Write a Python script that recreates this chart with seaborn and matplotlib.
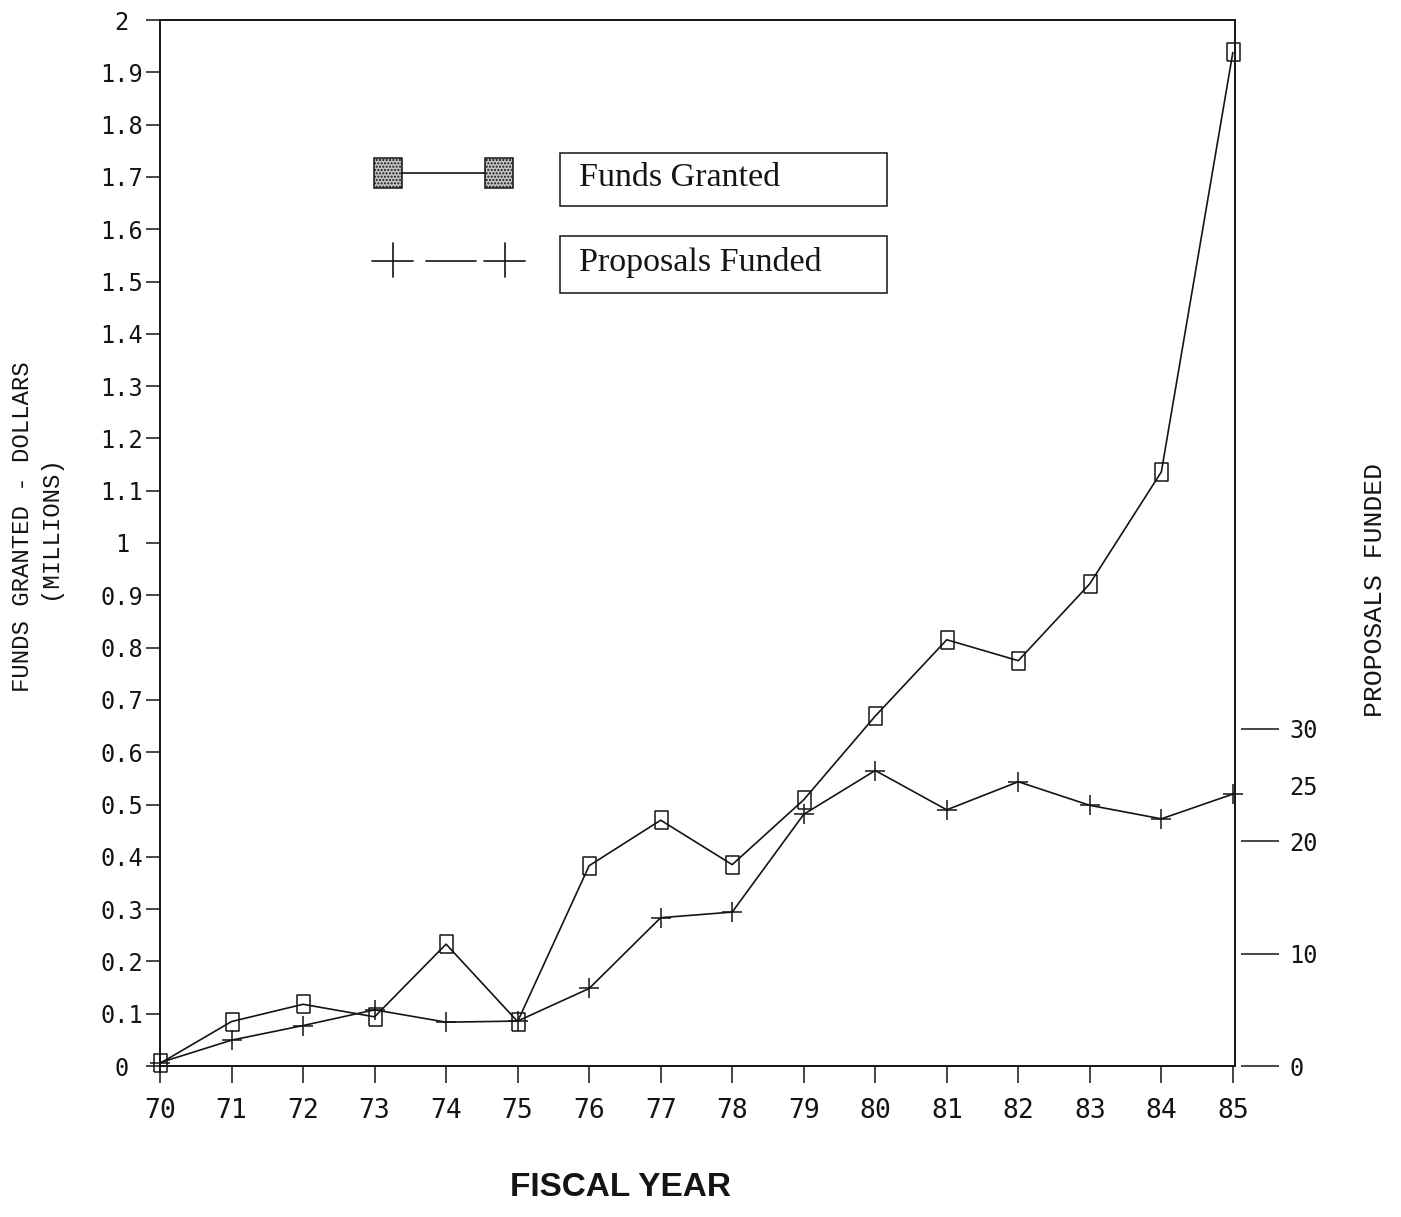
import matplotlib
matplotlib.use('Agg')
import matplotlib.pyplot as plt
from matplotlib.lines import Line2D
from matplotlib.patches import Rectangle
import seaborn as sns
import pandas as pd

# 資料 (從圖上讀取的估計值)
years = list(range(70, 86))
funds_granted = [0.005, 0.085, 0.118, 0.094, 0.233, 0.085, 0.383, 0.470, 0.385, 0.509,
                 0.669, 0.815, 0.775, 0.922, 1.136, 1.938]
proposals_funded = [0.3, 2.3, 3.6, 5.0, 3.9, 4.0, 6.9, 13.2, 13.7, 22.4,
                    26.3, 22.8, 25.3, 23.2, 22.0, 24.2]
left_ticks = [0, 0.1, 0.2, 0.3, 0.4, 0.5, 0.6, 0.7, 0.8, 0.9, 1.0,
              1.1, 1.2, 1.3, 1.4, 1.5, 1.6, 1.7, 1.8, 1.9, 2.0]
left_labels = ['0', '0.1', '0.2', '0.3', '0.4', '0.5', '0.6', '0.7', '0.8', '0.9', '1',
               '1.1', '1.2', '1.3', '1.4', '1.5', '1.6', '1.7', '1.8', '1.9', '2']
right_ticks = [0, 10, 20, 25, 30]

df = pd.DataFrame({'year': years, 'funds': funds_granted, 'proposals': proposals_funded})

sns.set_style('white')
plt.rcParams['font.family'] = ['DejaVu Sans Mono', 'DejaVu Sans']

W, H = 1401, 1217
fig = plt.figure(figsize=(W / 100, H / 100), dpi=100)
ax = fig.add_axes([160 / W, 1 - 1066 / H, 1075 / W, 1046 / H])
ax2 = ax.twinx()

ink = '#141414'
rect_marker = [(-0.72, -1), (0.72, -1), (0.72, 1), (-0.72, 1), (-0.72, -1)]

# 主軸：補助金額
sns.lineplot(data=df, x='year', y='funds', ax=ax, color=ink, linewidth=1.2,
             marker=rect_marker, markersize=13, markerfacecolor='none',
             markeredgecolor=ink, markeredgewidth=1.1, zorder=3, clip_on=False)
# 副軸：獲補助提案數
sns.lineplot(data=df, x='year', y='proposals', ax=ax2, color=ink, linewidth=1.2,
             marker='+', markersize=14, markeredgewidth=1.1, markeredgecolor=ink,
             zorder=3, clip_on=False)

ax.set_xlim(70, 85.03)
ax.set_ylim(0, 2.0)
ax2.set_ylim(0, 93.1)

ax.set_xticks(years)
ax.set_xticklabels([str(y) for y in years])
ax.set_yticks(left_ticks)
ax.set_yticklabels(left_labels, ha='center')
ax.tick_params(axis='x', direction='out', length=12, width=1.1, pad=11,
               labelsize=19, colors=ink, bottom=True)
ax.tick_params(axis='y', direction='out', length=10, width=1.1, pad=17.5,
               labelsize=17, colors=ink, left=True)
ax.set_xlabel('')
ax.set_ylabel('')

for side in ['left', 'bottom', 'top', 'right']:
    ax.spines[side].set_visible(True)
    ax.spines[side].set_color(ink)
    ax.spines[side].set_linewidth(1.4)

# 右側刻度 (與軸線分離)
for side in ['left', 'bottom', 'top']:
    ax2.spines[side].set_visible(False)
ax2.spines['right'].set_position(('outward', 4))
ax2.spines['right'].set_visible(False)
ax2.set_yticks(right_ticks)
ax2.set_yticklabels([str(t) for t in right_ticks])
ax2.tick_params(axis='y', direction='out', length=27, width=1.1, pad=8,
                labelsize=17, colors=ink, right=True)
ax2.yaxis.get_major_ticks()[3].tick2line.set_visible(False)
ax2.set_ylabel('')

# 軸標題
fig.text(36 / W, 1 - 527 / H, 'FUNDS GRANTED - DOLLARS\n(MILLIONS)', rotation=90,
         ha='center', va='center', multialignment='center', fontsize=17.3,
         family='Liberation Mono', color=ink, linespacing=1.25)
fig.text(1375 / W, 1 - 590 / H, 'PROPOSALS FUNDED', rotation=90, ha='center',
         va='center', fontsize=19, family='Liberation Mono', color=ink)
fig.text(620 / W, 1 - 1187 / H, 'FISCAL YEAR', ha='center', va='center',
         fontsize=24, fontweight='bold', family='Liberation Sans', color=ink)


# 圖例 (手動繪製)
def fx(px):
    return px / W


def fy(py):
    return 1 - py / H


for cx in [388, 499]:
    fig.add_artist(Rectangle((fx(cx - 14), fy(188)), 28 / W, 30 / H, transform=fig.transFigure,
                             facecolor='#c4c4c4', edgecolor=ink, hatch='.....', linewidth=1.1))
fig.add_artist(Line2D([fx(402), fx(485)], [fy(173), fy(173)], transform=fig.transFigure,
                      color=ink, linewidth=1.2))
for cx in [393, 505]:
    fig.add_artist(Line2D([fx(cx - 21), fx(cx + 20)], [fy(261), fy(261)],
                          transform=fig.transFigure, color=ink, linewidth=1.2))
    fig.add_artist(Line2D([fx(cx), fx(cx)], [fy(243), fy(277)],
                          transform=fig.transFigure, color=ink, linewidth=1.2))
fig.add_artist(Line2D([fx(426), fx(476)], [fy(261), fy(261)], transform=fig.transFigure,
                      color=ink, linewidth=1.2))

for top, bottom, label in [(153, 206, 'Funds Granted'), (236, 293, 'Proposals Funded')]:
    fig.add_artist(Rectangle((fx(560), fy(bottom)), 327 / W, (bottom - top) / H,
                             transform=fig.transFigure, facecolor='white',
                             edgecolor=ink, linewidth=1.1))
    fig.text(fx(579), fy((top + bottom) / 2 - 2), label, ha='left', va='center',
             fontsize=24.5, family='Liberation Serif', color=ink)

fig.savefig('out.png', dpi=100, facecolor='white')
